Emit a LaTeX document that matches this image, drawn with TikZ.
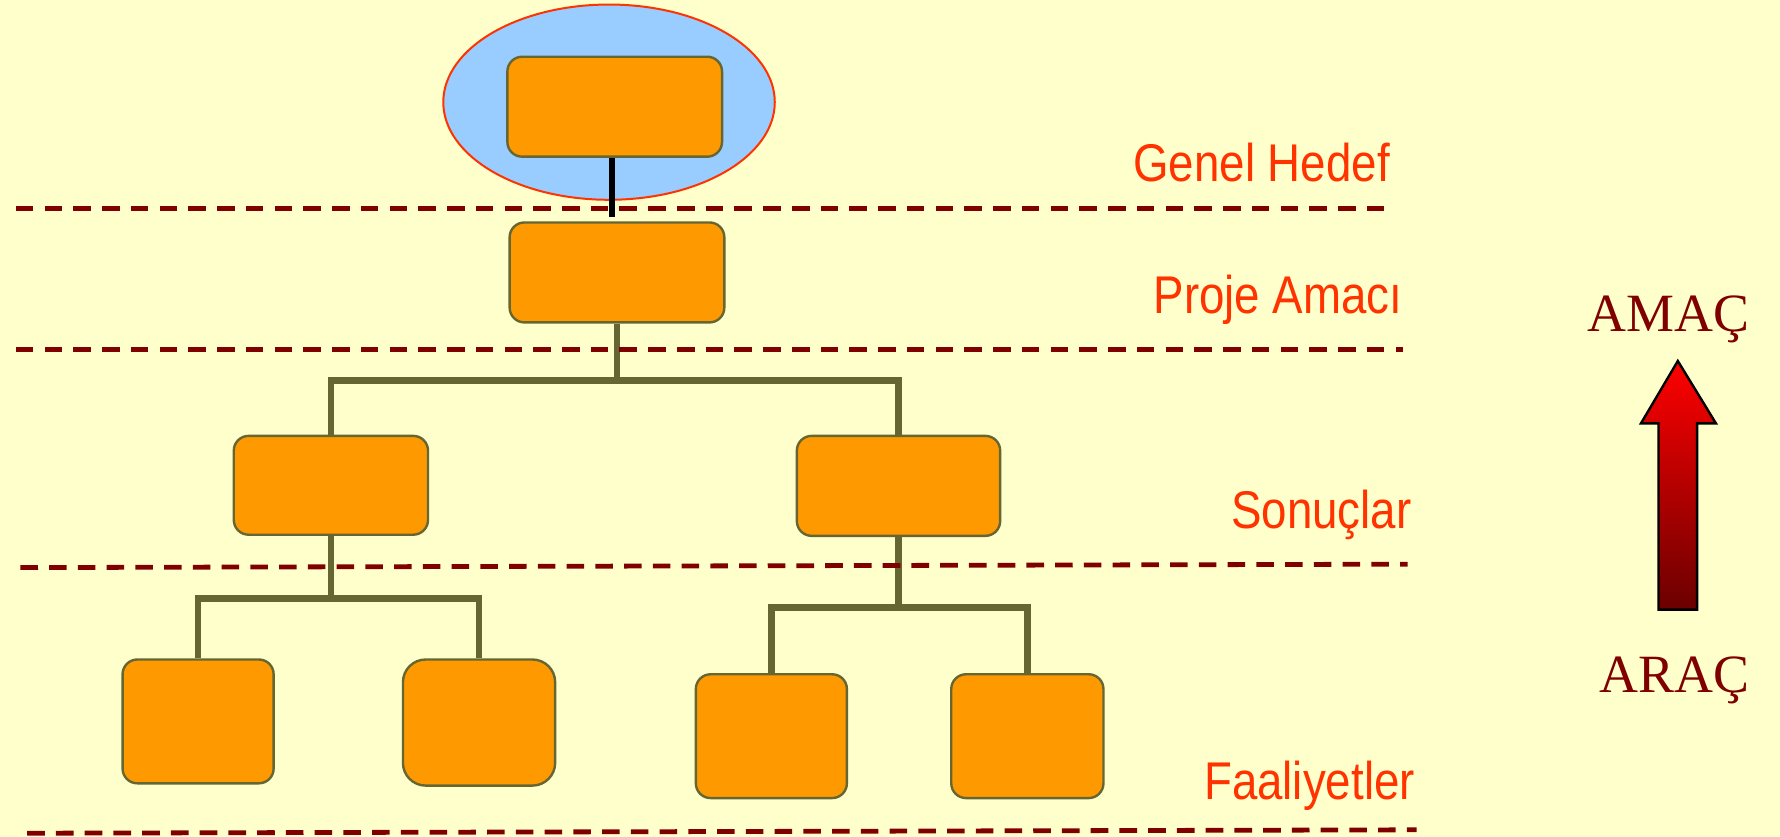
\documentclass[tikz,border=0pt]{standalone}
\usepackage{fontspec}
\setmainfont{Liberation Serif}
\newfontfamily\levelfont[FakeStretch=0.86]{Liberation Sans}
\definecolor{bgyellow}{HTML}{FFFFCC}
\definecolor{boxfill}{HTML}{FF9900}
\definecolor{boxline}{HTML}{666633}
\definecolor{ovalfill}{HTML}{99CCFF}
\definecolor{redtext}{HTML}{FF3300}
\definecolor{darkred}{HTML}{800000}
\definecolor{arrowdark}{HTML}{6B0000}
\begin{document}
\begin{tikzpicture}[x=0.01cm, y=-0.01cm,
    box/.style = {draw=boxline, fill=boxfill, line width=0.6pt, rounded corners=1.3mm, inner sep=0pt},
    tree/.style = {draw=boxline, line width=1.6pt},
    sep/.style = {draw=darkred, line width=1.2pt, dash pattern=on 4.4pt off 2.8pt},
    level/.style = {text=redtext, font=\levelfont\fontsize{13.3}{16}\selectfont, anchor=base east, inner sep=0pt},
    pole/.style = {text=darkred, font=\fontsize{13.5}{16}\selectfont, anchor=base, inner sep=0pt}]
    \fill[bgyellow] (0,0) rectangle (1568,737);
    \useasboundingbox (0,0) rectangle (1568,737);
    \filldraw[fill=ovalfill, draw=redtext, line width=0.5pt] (536.5,90) ellipse [x radius=146, y radius=86];
    \node[box, minimum width=1.89cm, minimum height=0.88cm] (1) at (541.5,94) {};
    \node[box, minimum width=1.89cm, minimum height=0.88cm] (2) at (543.5,240) {};
    \node[box, minimum width=1.71cm, minimum height=0.87cm] (3) at (291.5,427.5) {};
    \node[box, minimum width=1.79cm, minimum height=0.88cm] (4) at (791.5,428) {};
    \node[box, minimum width=1.33cm, minimum height=1.09cm] (5) at (174.5,635.5) {};
    \node[box, minimum width=1.34cm, minimum height=1.11cm, rounded corners=2mm] (6) at (422,636.5) {};
    \node[box, minimum width=1.33cm, minimum height=1.09cm] (7) at (679.5,648.5) {};
    \node[box, minimum width=1.34cm, minimum height=1.09cm] (8) at (905,648.5) {};
    \draw[line width=1.5pt, shorten >=1pt] ([xshift=-0.02cm]1.south) -- ([xshift=-0.02cm]1.south |- 2.north);
    \draw[tree] (2.south) -- ++(0,50) -| (3.north);
    \draw[tree] (2.south) -- ++(0,50) -| (4.north);
    \draw[tree] (3.south) -- ++(0,55) -| (5.north);
    \draw[tree] (3.south) -- ++(0,55) -| (6.north);
    \draw[tree] (4.south) -- ++(0,62) -| (7.north);
    \draw[tree] (4.south) -- ++(0,62) -| (8.north);
    % level separators
    \draw[sep] (14,184) -- (1228,184);
    \draw[sep] (14,308) -- (1236,308);
    \draw[sep] (18,500) -- (1240,497);
    \draw[sep] (24,734) -- (1248,731);
    \node[level] (genel) at (1225,160) {Genel Hedef};
    \node[level] (amaci) at (1236,276) {Proje Amacı};
    \node[level] (sonuc) at (1244,466) {Sonuçlar};
    \node[level] (faal) at (1247,704) {Faaliyetler};
    \node[pole] (amac) at (1470,292) {AMAÇ};
    \node[pole] (arac) at (1475,610) {ARAÇ};
    \shadedraw[top color=red, bottom color=arrowdark, draw=black, line width=0.6pt]
        (1461,537) -- (1461,373) -- (1445.5,373) -- (1478,318) -- (1511.6,373) -- (1495,373) -- (1495,537) -- cycle;
\end{tikzpicture}
\end{document}
